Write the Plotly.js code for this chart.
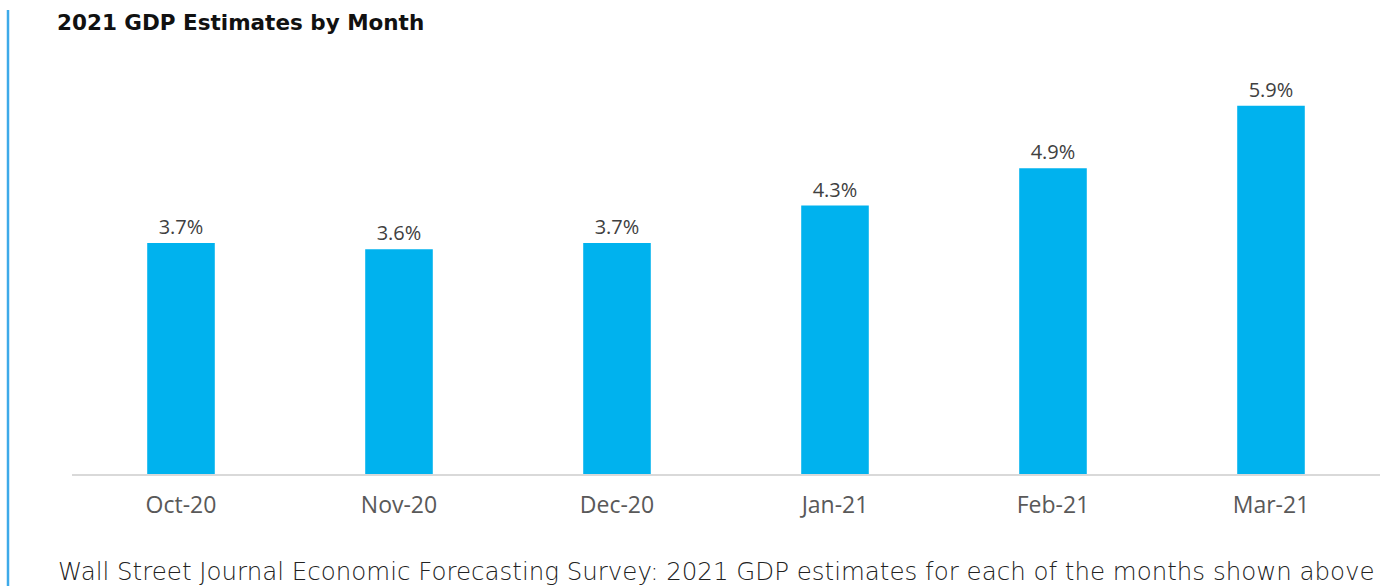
<!DOCTYPE html>
<html><head><meta charset="utf-8">
<script src="https://cdn.plot.ly/plotly-3.0.1.min.js"></script>
<style>html,body{margin:0;padding:0;background:#fff;}#chart{width:1380px;height:586px;}</style>
</head><body><div id="chart"></div>
<script>
const months = ["Oct-20","Nov-20","Dec-20","Jan-21","Feb-21","Mar-21"];
const gdpEstimates = [3.7, 3.6, 3.7, 4.3, 4.9, 5.9];
const labels = gdpEstimates.map(v => v.toFixed(1) + "%");

const W = 1380, H = 586, ML = 72, MR = 0, MT = 87, MB = 112;
const pw = W - ML - MR, ph = H - MT - MB;
const px = p => (p - ML) / pw;
const py = p => (H - MB - p) / ph;

const trace = {
  type: "bar", x: months, y: gdpEstimates,
  text: labels, textposition: "outside", cliponaxis: false,
  textfont: {family: "Open Sans, sans-serif", size: 20, color: "#404040"},
  marker: {color: "#00B2EE"}, width: 0.31, hoverinfo: "none"
};
const layout = {
  width: W, height: H,
  margin: {l: ML, r: MR, t: MT, b: MB},
  paper_bgcolor: "#fff", plot_bgcolor: "#fff",
  showlegend: false,
  title: {text: "2021 GDP Estimates by Month", x: 57/W, xanchor: "left", xref: "container",
    y: 1 - 22/H, yanchor: "middle", yref: "container",
    font: {family: "DejaVu Sans, sans-serif", size: 21.5, weight: 700, color: "#111"}},
  xaxis: {showgrid: false, showline: true, linecolor: "#D9D9D9", linewidth: 1.5, ticks: "",
    tickfont: {family: "Open Sans, sans-serif", size: 23, color: "#595959"}, ticklabelstandoff: 10, zeroline: false},
  yaxis: {range: [0, 6.2], visible: false, showgrid: false, zeroline: false},
  shapes: [{type: "line", xref: "paper", yref: "paper", x0: px(8), x1: px(8), y0: py(10), y1: py(H),
    line: {color: "#3DAAE9", width: 2.5}}],
  annotations: [{text: "Wall Street Journal Economic Forecasting Survey: 2021 GDP estimates for each of the months shown above",
    xref: "paper", yref: "paper", x: px(56), xanchor: "left", y: py(571), yanchor: "middle", showarrow: false,
    font: {family: "DejaVu Sans, sans-serif", size: 24.5, weight: 300, color: "#222"}}]
};
Plotly.newPlot("chart", [trace], layout, {displayModeBar: false, staticPlot: true});
</script></body></html>
